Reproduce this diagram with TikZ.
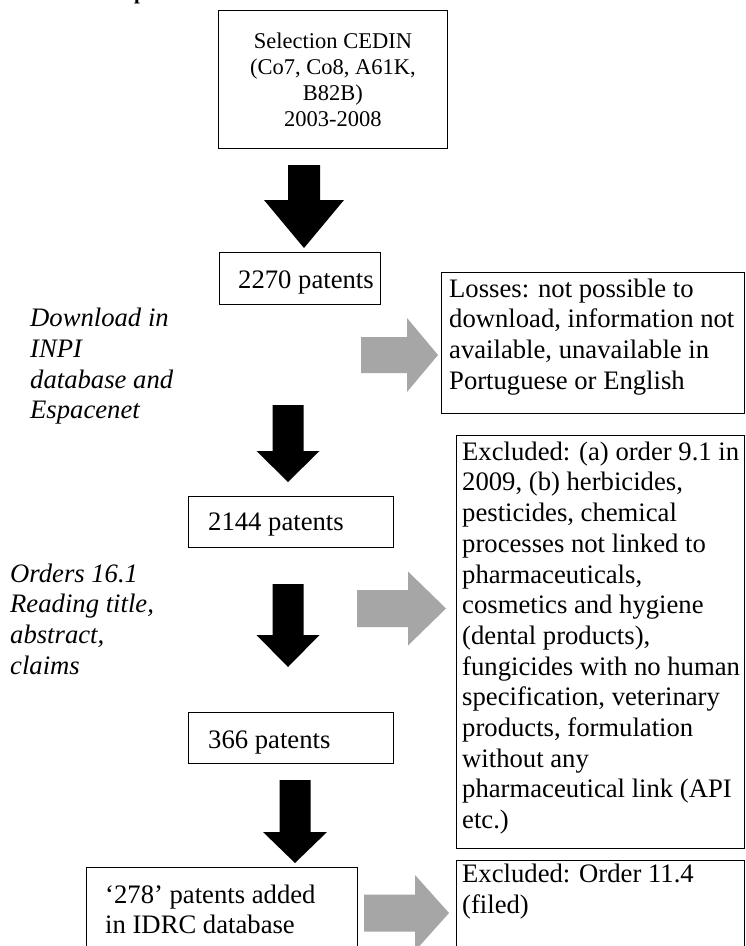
\documentclass[tikz,border=0pt]{standalone}
\usepackage{fontspec}
\setmainfont{Liberation Serif}
\definecolor{arrowgray}{HTML}{A6A6A6}
\newcommand\downblock[7]{% cx, shaft half width, shaft top, head top, head half width, tip, style
  \fill[#7] ({#1-#2},{#3}) -- ({#1+#2},{#3}) -- ({#1+#2},{#4}) -- ({#1+#5},{#4}) -- ({#1},{#6}) -- ({#1-#5},{#4}) -- ({#1-#2},{#4}) -- cycle;}
\newcommand\rightblock[7]{% cy, shaft half height, shaft left, head start, head half height, tip x, style
  \fill[#7] ({#3},{#1-#2}) -- ({#4},{#1-#2}) -- ({#4},{#1-#5}) -- ({#6},{#1}) -- ({#4},{#1+#5}) -- ({#4},{#1+#2}) -- ({#3},{#1+#2}) -- cycle;}
\begin{document}
\begin{tikzpicture}[x=1pt,y=-1pt,
  frame/.style={draw=black, line width=0.9pt, inner sep=0pt, anchor=north west},
  body/.style={font=\fontsize{26.67}{30.7}\selectfont, inner sep=0pt, align=left, anchor=north west},
  note/.style={body, font=\fontsize{26.67}{30.7}\selectfont\itshape},
  headtxt/.style={font=\fontsize{22.5}{26.1}\selectfont, inner sep=0pt, align=center},
  blk/.style={fill=black},
  gry/.style={fill=arrowgray},
]
\useasboundingbox (0,0) rectangle (746,946);
\fill[white] (0,0) rectangle (746,946);
\begin{scope}
\clip (0,0) rectangle (746,946);
% cut-off heading fragment
\node[font=\fontsize{21}{21}\selectfont\bfseries, inner sep=0pt, anchor=base west] (frag) at (134,-1) {p};

% boxes
\node[frame, minimum width=229pt, minimum height=138pt] (top) at (218,10) {};
\node[frame, minimum width=161pt, minimum height=52pt] (b2270) at (219,252) {};
\node[frame, minimum width=205pt, minimum height=51pt] (b2144) at (188,496) {};
\node[frame, minimum width=205pt, minimum height=51pt] (b366) at (188,712) {};
\node[frame, minimum width=271pt, minimum height=100pt] (b278) at (86,867) {};
\node[frame, minimum width=303pt, minimum height=141pt] (loss) at (441,272) {};
\node[frame, minimum width=288pt, minimum height=413pt] (excl) at (456,435) {};
\node[frame, minimum width=288pt, minimum height=100pt] (exclb) at (456,860) {};

% texts
\node[headtxt] (toptxt) at (top.center) {Selection CEDIN\\(Co7, Co8, A61K,\\B82B)\\2003-2008};
\node[body, anchor=base west] (t2270) at (238,288) {2270 patents};
\node[body, anchor=base west] (t2144) at (208,530) {2144 patents};
\node[body, anchor=base west] (t366) at (208,748) {366 patents};
\node[body] (t278) at (105,881.5) {\strut ‘278’ patents added\\in IDRC database};
\node[body] (tloss) at (449,275.5) {\strut Losses: not possible to\\download, information not\\available, unavailable in\\Portuguese or English};
\node[body] (texcl) at (462,438.5) {\strut Excluded: (a) order 9.1 in\\2009, (b) herbicides,\\pesticides, chemical\\processes not linked to\\pharmaceuticals,\\cosmetics and hygiene\\(dental products),\\fungicides with no human\\specification, veterinary\\products, formulation\\without any\\pharmaceutical link (API\\etc.)};
\node[body] (texclb) at (462,861) {\strut Excluded: Order 11.4\\(filed)};
\node[note] (ndown) at (30,305) {\strut Download in\\INPI\\database and\\Espacenet};
\node[note] (norders) at (10,560.5) {\strut Orders 16.1\\Reading title,\\abstract,\\claims};

% black block arrows
\downblock{304}{16}{165}{200}{40}{248}{blk}
\downblock{288}{15.5}{405}{451}{31.5}{482}{blk}
\downblock{288}{15.5}{584}{635}{31.5}{667}{blk}
\downblock{295}{15.5}{780}{832}{32}{863}{blk}

% gray block arrows
\rightblock{355}{18}{361}{407}{37}{438}{gry}
\rightblock{608.5}{18.5}{357}{408}{37}{446}{gry}
\rightblock{913}{18.5}{364}{415}{38}{449}{gry}
\end{scope}
\end{tikzpicture}
\end{document}
